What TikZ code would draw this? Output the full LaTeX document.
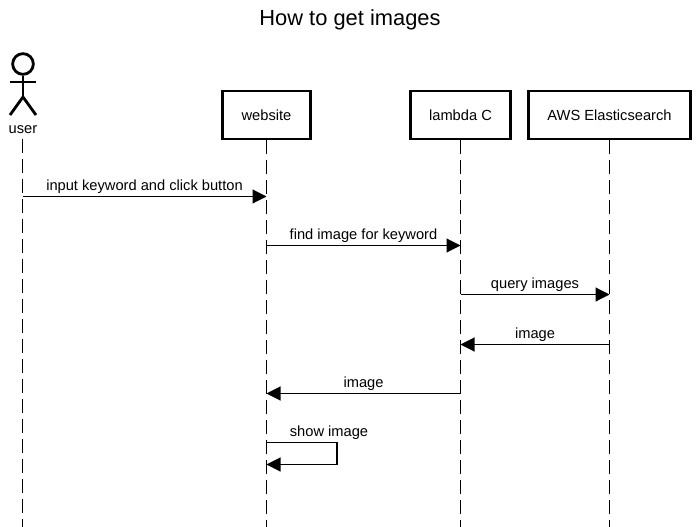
\documentclass[tikz,border=0pt]{standalone}
\usepackage{fontspec}
\setmainfont{Liberation Sans}
\usetikzlibrary{arrows.meta}
\tikzset{
  box/.style={draw, line width=2.1pt, minimum height=36pt, inner sep=0pt, font=\fontsize{11pt}{13pt}\selectfont},
  lifeline/.style={line width=0.85pt, dash pattern=on 10.5pt off 4.5pt},
  msg/.style={line width=0.85pt, -{Triangle[length=10.5pt,width=10.5pt]}},
  lbl/.style={font=\fontsize{11pt}{13pt}\selectfont, inner sep=0pt},
  stick/.style={line width=2.1pt}
}
\begin{document}
\begin{tikzpicture}[x=0.75pt,y=-0.75pt]
        \useasboundingbox (0,0) rectangle (699,527);
        \node (TT) at (350,20) [lbl, font=\fontsize{16.4pt}{19pt}\selectfont] {How to get images};
        \node (HD) at (23,64) [draw, stick, circle, minimum size=15.5pt, inner sep=0pt] {};
        \coordinate (NK) at (23,97);
        \coordinate (AL) at (10,82);
        \coordinate (AR) at (36,82);
        \coordinate (FL) at (10,115);
        \coordinate (FR) at (36,115);
        \draw [stick] (HD) -- (NK);
        \draw [stick] (AL) -- (AR);
        \draw [stick] (FL) -- (NK) -- (FR);
        \node (US) at (23,130) [lbl] {user};
        \node (WB) at (266.5,115) [box, minimum width=65.5pt] {\raisebox{-0.75pt}{website}};
        \node (LC) at (460.5,115) [box, minimum width=75pt] {\raisebox{-0.75pt}{lambda C}};
        \node (ES) at (609.5,115) [box, minimum width=122pt] {\raisebox{-0.75pt}{AWS Elasticsearch}};
        \coordinate (UE) at (22.5,527);
        \coordinate (WE) at (266.5,527);
        \coordinate (LE) at (460.5,527);
        \coordinate (EE) at (609.5,527);
        \coordinate (US0) at (22.5,139);
        \draw [lifeline] (US0) -- (UE);
        \draw [lifeline] (WB.south) -- (WE);
        \draw [lifeline] (LC.south) -- (LE);
        \draw [lifeline] (ES.south) -- (EE);
        \coordinate (U1) at (22.5,196.5);
        \coordinate (W1) at (266.5,196.5);
        \coordinate (W2) at (266.5,245.5);
        \coordinate (L2) at (460.5,245.5);
        \coordinate (L3) at (460.5,294.5);
        \coordinate (E3) at (609.5,294.5);
        \coordinate (E4) at (609.5,344.5);
        \coordinate (L4) at (460.5,344.5);
        \coordinate (L5) at (460.5,393.5);
        \coordinate (W5) at (266.5,393.5);
        \coordinate (W6) at (266.5,442.5);
        \coordinate (R6) at (337,442.5);
        \coordinate (R7) at (337,464.5);
        \coordinate (W7) at (266.5,464.5);
        \draw [msg] (U1) -- node [lbl, above=2pt] {input keyword and click button} (W1);
        \draw [msg] (W2) -- node [lbl, above=2pt] {find image for keyword} (L2);
        \draw [msg] (L3) -- node [lbl, above=2pt] {query images} (E3);
        \draw [msg] (E4) -- node [lbl, above=2pt] {image} (L4);
        \draw [msg] (L5) -- node [lbl, above=2pt] {image} (W5);
        \draw [msg] (W6) -- (R6) -- (R7) -- (W7);
        \node (SI) at (329,433) [lbl] {show image};
\end{tikzpicture}
\end{document}
